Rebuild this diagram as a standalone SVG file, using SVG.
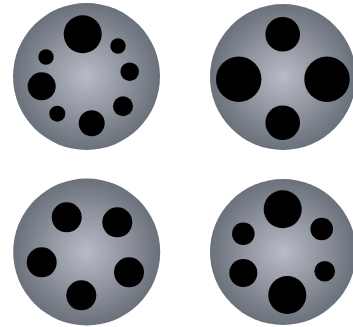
<svg xmlns="http://www.w3.org/2000/svg" width="353" height="327" viewBox="0 0 353 327">
<style>
.disc{fill:url(#g)}
.hole{fill:#000}
</style>
<defs>
<radialGradient id="g" cx="0.5" cy="0.5" r="0.5">
<stop offset="0" stop-color="#b9bbc7"/>
<stop offset="1" stop-color="#6a717a"/>
</radialGradient>
</defs>
<g id="disc1">
<circle class="disc" cx="86.5" cy="76.5" r="73.5"/>
<circle class="hole" cx="82.7" cy="34.3" r="19"/>
<circle class="hole" cx="118" cy="46" r="7.7"/>
<circle class="hole" cx="129.7" cy="71.7" r="9.3"/>
<circle class="hole" cx="123" cy="106.3" r="10"/>
<circle class="hole" cx="91.7" cy="123.3" r="13"/>
<circle class="hole" cx="57.3" cy="113.7" r="8"/>
<circle class="hole" cx="41.7" cy="86.3" r="14"/>
<circle class="hole" cx="46" cy="57" r="7.7"/>
</g>
<g id="disc2">
<circle class="disc" cx="283" cy="77" r="73"/>
<circle class="hole" cx="282.7" cy="34.3" r="17.3"/>
<circle class="hole" cx="238.7" cy="79.3" r="22.7"/>
<circle class="hole" cx="327" cy="79.3" r="22.7"/>
<circle class="hole" cx="282.7" cy="122.7" r="17.3"/>
</g>
<g id="disc3">
<circle class="disc" cx="86.7" cy="252" r="73.5"/>
<circle class="hole" cx="66.7" cy="217.3" r="15"/>
<circle class="hole" cx="117.3" cy="222.3" r="15"/>
<circle class="hole" cx="41.7" cy="262.3" r="15"/>
<circle class="hole" cx="129" cy="272.3" r="15"/>
<circle class="hole" cx="81.3" cy="295.3" r="15"/>
</g>
<g id="disc4">
<circle class="disc" cx="283" cy="252" r="73"/>
<circle class="hole" cx="282.7" cy="209.3" r="19"/>
<circle class="hole" cx="321.7" cy="229" r="11.3"/>
<circle class="hole" cx="243.3" cy="233.7" r="11.3"/>
<circle class="hole" cx="243.3" cy="273" r="14"/>
<circle class="hole" cx="324.7" cy="271.3" r="10.3"/>
<circle class="hole" cx="287.3" cy="295" r="19"/>
</g>
</svg>
